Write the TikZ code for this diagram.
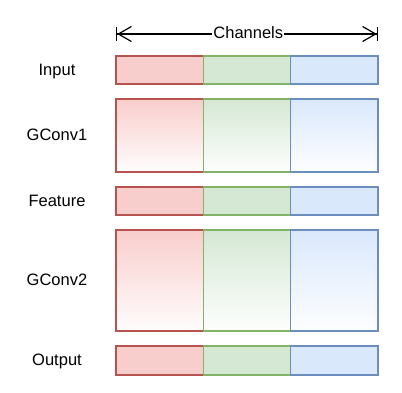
\documentclass[tikz,border=0pt]{standalone}
\usepackage{fontspec}
\setmainfont{Liberation Sans}
\usetikzlibrary{arrows.meta}
\definecolor{rfill}{HTML}{F8CECC}
\definecolor{rline}{HTML}{B85450}
\definecolor{gfill}{HTML}{D5E8D4}
\definecolor{gline}{HTML}{82B366}
\definecolor{bfill}{HTML}{DAE8FC}
\definecolor{bline}{HTML}{6C8EBF}
\begin{document}
\begin{tikzpicture}[x=1pt,y=-1pt,
  cell/.style={line width=1.3pt, minimum width=87.33pt, inner sep=0pt, outer sep=0pt, anchor=north west},
  r0/.style={cell, draw=rline, fill=rfill},
  g0/.style={cell, draw=gline, fill=gfill},
  b0/.style={cell, draw=bline, fill=bfill},
  r1/.style={cell, draw=rline, top color=rfill, bottom color=rfill!4},
  g1/.style={cell, draw=gline, top color=gfill, bottom color=gfill!4},
  b1/.style={cell, draw=bline, top color=bfill, bottom color=bfill!4},
  lab/.style={font=\fontsize{16.5}{19}\selectfont, inner sep=0pt, text height=11.9pt, text depth=0pt},
  dim/.style={line width=1.2pt, {Bar[width=14pt]Straight Barb[length=13pt,width=15pt]}-{Straight Barb[length=13pt,width=15pt]Bar[width=14pt]}}
]
\useasboundingbox (0,0) rectangle (402,392);
\foreach \nm/\txt/\top/\h/\s in {in/Input/56/28/0, gca/GConv1/99/73/1, ft/Feature/187/28/0, gcb/GConv2/230/101/1, out/Output/346/29/0}{
  \node[r\s, minimum height=\h pt] (\nm-r) at (116,\top) {};
  \node[g\s, minimum height=\h pt] (\nm-g) at (\nm-r.north east) {};
  \node[b\s, minimum height=\h pt] (\nm-b) at (\nm-g.north east) {};
  \node[lab] (\nm-l) at (57,{\top+\h/2-0.5}) {\txt};
}
\coordinate (al) at (116,34);
\coordinate (ar) at (378,34);
\draw[dim] (al) -- node[lab, fill=white, inner xsep=1pt, inner ysep=2pt, pos=0.505, yshift=1pt] (ch) {Channels} (ar);
\end{tikzpicture}
\end{document}
